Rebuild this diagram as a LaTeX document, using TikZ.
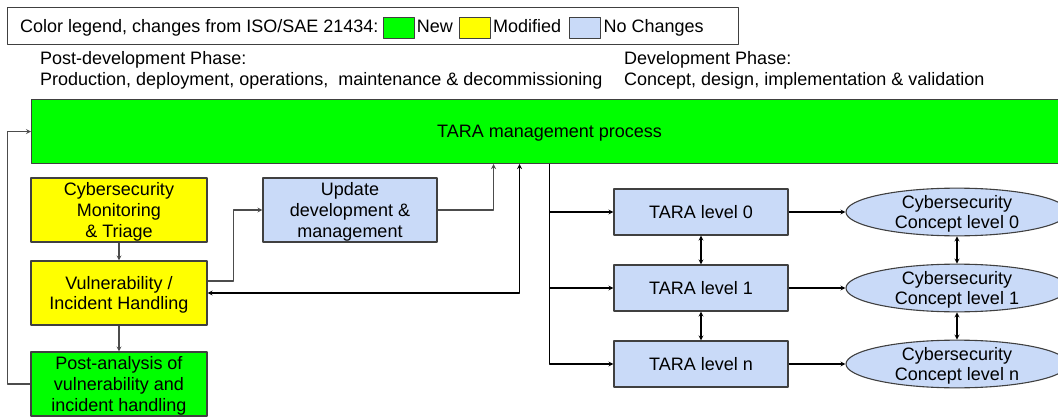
\documentclass[tikz,border=0pt]{standalone}
\usepackage{fontspec}
\setmainfont{Liberation Sans}
\usetikzlibrary{positioning,shapes.geometric}
\definecolor{newgreen}{HTML}{00FF00}
\definecolor{modyellow}{HTML}{FFFF00}
\definecolor{nochblue}{HTML}{C9DAF8}
\tikzset{
  box/.style={draw=black!75, line width=1.1pt, minimum width=176pt, minimum height=64pt, align=center, inner sep=1pt, text depth=0pt},
  lvlbox/.style={box, fill=nochblue, minimum width=174pt, minimum height=46pt},
  concept/.style={ellipse, draw=black!75, line width=1.1pt, fill=nochblue, minimum width=222pt, minimum height=47pt, inner sep=0pt, align=center, text depth=0pt},
  keybox/.style={draw=black!75, line width=1pt, minimum width=31pt, minimum height=21pt, inner sep=0pt},
  keytxt/.style={inner sep=0pt, text height=13pt, text depth=4pt},
  conn/.style={draw=black!70, line width=1.2pt},
}
\begin{document}
\begin{tikzpicture}[x=1pt,y=-1pt,>=stealth, font=\fontsize{18}{20.7}\selectfont, line join=round]
  \useasboundingbox (0,0) rectangle (1058,420);
  % legend
  \node[draw=black!75, line width=1pt, minimum width=731pt, minimum height=37pt, anchor=north west] (legend) at (7,7) {};
  \node[keytxt, anchor=west] (legtxt) at (20,28) {Color legend, changes from ISO/SAE 21434:};
  \node[keybox, fill=newgreen, right=4pt of legtxt] (keynew) {};
  \node[keytxt, right=2pt of keynew] (lblnew) {New};
  \node[keybox, fill=modyellow, right=6pt of lblnew] (keymod) {};
  \node[keytxt, right=2pt of keymod] (lblmod) {Modified};
  \node[keybox, fill=nochblue, right=8pt of lblmod] (keynoch) {};
  \node[keytxt, right=2pt of keynoch] (lblnoch) {No Changes};
  % phases
  \node[anchor=west, align=left, inner sep=0pt] (postphase) at (40,70)
    {Post-development Phase:\\Production, deployment, operations,~ maintenance \& decommissioning};
  \node[anchor=west, align=left, inner sep=0pt] (devphase) at (624,70)
    {Development Phase:\\Concept, design, implementation \& validation};
  % boxes
  \node[box, fill=newgreen, minimum width=1036pt, anchor=north west] (tara) at (31,99) {TARA management process};
  \node[box, fill=modyellow] (cmt) at (119,210) {Cybersecurity\\Monitoring\\\& Triage};
  \node[box, fill=modyellow] (vuln) at (119,293) {Vulnerability /\\Incident Handling};
  \node[box, fill=newgreen] (post) at (119,384) {Post-analysis of\\vulnerability and\\incident handling};
  \node[box, fill=nochblue, minimum width=174pt] (upd) at (350,210) {Update\\development \&\\management};
  \node[lvlbox] (lvl0) at (701,212) {TARA level 0};
  \node[lvlbox] (lvl1) at (701,288) {TARA level 1};
  \node[lvlbox] (lvln) at (701,364) {TARA level n};
  \node[concept] (csc0) at (957,212) {Cybersecurity\\Concept level 0};
  \node[concept] (csc1) at (957,288) {Cybersecurity\\Concept level 1};
  \node[concept] (cscn) at (957,364) {Cybersecurity\\Concept level n};
  % connectors
  \draw[conn,->] (cmt) -- (vuln);
  \draw[conn,->] (vuln) -- (post);
  \draw[conn,->] (post.west) -- ++(-23,0) |- (tara.west);
  \draw[conn,->] ([yshift=12pt]vuln.east) -- ++(26,0) |- (upd.west);
  \draw[conn,->] (upd.east) -| ([xshift=-56pt]tara.south);
  \draw[conn,draw=black,<->] (vuln.east) -| ([xshift=-30pt]tara.south);
  \foreach \lv in {lvl0,lvl1,lvln}
    \draw[conn,draw=black,->] (tara.south) |- (\lv.west);
  \draw[conn,draw=black,<->] (lvl0) -- (lvl1);
  \draw[conn,draw=black,<->] (lvl1) -- (lvln);
  \draw[conn,draw=black,<->] (csc0) -- (csc1);
  \draw[conn,draw=black,<->] (csc1) -- (cscn);
  \draw[conn,draw=black,->] (lvl0) -- (csc0);
  \draw[conn,draw=black,->] (lvl1) -- (csc1);
  \draw[conn,draw=black,->] (lvln) -- (cscn);
\end{tikzpicture}
\end{document}
